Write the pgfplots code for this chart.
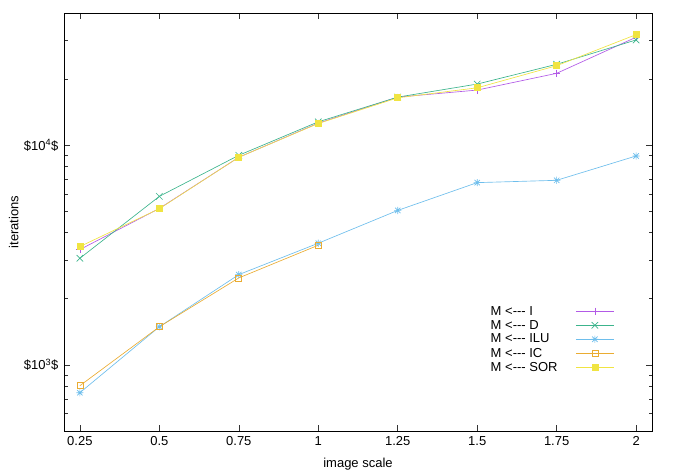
\documentclass[border=0pt]{standalone}
\usepackage{fontspec}
\setmainfont{Liberation Sans}
\usepackage{pgfplots}
\pgfplotsset{compat=1.18}
\definecolor{gpPurple}{RGB}{178,90,230}
\definecolor{gpGreen}{RGB}{60,180,140}
\definecolor{gpBlue}{RGB}{110,190,236}
\definecolor{gpOrange}{RGB}{234,172,50}
\definecolor{gpYellow}{RGB}{240,228,66}

% gnuplot style star: plus and cross together
\pgfdeclareplotmark{gpstar}{%
  \pgfpathmoveto{\pgfqpoint{-\pgfplotmarksize}{0pt}}\pgfpathlineto{\pgfqpoint{\pgfplotmarksize}{0pt}}%
  \pgfpathmoveto{\pgfqpoint{0pt}{-\pgfplotmarksize}}\pgfpathlineto{\pgfqpoint{0pt}{\pgfplotmarksize}}%
  \pgfpathmoveto{\pgfqpoint{-.75\pgfplotmarksize}{-.75\pgfplotmarksize}}\pgfpathlineto{\pgfqpoint{.75\pgfplotmarksize}{.75\pgfplotmarksize}}%
  \pgfpathmoveto{\pgfqpoint{-.75\pgfplotmarksize}{.75\pgfplotmarksize}}\pgfpathlineto{\pgfqpoint{.75\pgfplotmarksize}{-.75\pgfplotmarksize}}%
  \pgfusepathqstroke}

\begin{document}
\begin{tikzpicture}
\useasboundingbox (0pt,0pt) rectangle (676pt,473pt);
\begin{axis}[
    at={(64pt,42pt)}, anchor=south west,
    scale only axis, width=588pt, height=418pt,
    ymode=log, xmin=0.2, xmax=2.05, ymin=500, ymax=40000,
    xtick={0.25,0.5,0.75,1,1.25,1.5,1.75,2},
    xticklabels={0.25,0.5,0.75,1,1.25,1.5,1.75,2},
    ytick={1000,10000},
    yticklabels={\$10\textsuperscript{3}\$,\$10\textsuperscript{4}\$},
    minor ytick={500,600,700,800,900,2000,3000,4000,5000,6000,7000,8000,9000,20000,30000,40000},
    tick align=inside, major tick length=6pt, minor tick length=3.5pt,
    tick style={black!80, line width=0.6pt},
    axis line style={black, line width=0.9pt},
    tick label style={font=\fontsize{13}{15}\selectfont},
    xticklabel style={yshift=-2pt},
    yticklabel style={xshift=-2pt},
    label style={font=\fontsize{13}{15}\selectfont},
    xlabel={image scale}, ylabel={iterations},
    xlabel style={at={(axis description cs:0.5,0)}, anchor=north, yshift=-24pt},
    ylabel style={at={(axis description cs:0,0.5)}, anchor=south, yshift=42pt},
    legend plot pos=right, legend cell align=left,
    legend style={at={(axis description cs:0.722,0.304)}, anchor=north west,
        draw=none, fill=none, font=\fontsize{13}{15}\selectfont,
        row sep=-0.5pt, column sep=16pt, inner sep=0pt},
    legend image code/.code={\draw[mark repeat=2, mark phase=2] plot coordinates {(0pt,0pt) (19pt,0pt) (38pt,0pt)};},
    every axis plot/.append style={line width=0.65pt},
]
\addplot[color=gpPurple, mark=+, mark size=3.6pt] coordinates {
(0.25,3350) (0.5,5155) (0.75,8815) (1,12605) (1.25,16560) (1.5,17830) (1.75,21250) (2,31030)};
\addlegendentry{M <-{}-{}- I}
\addplot[color=gpGreen, mark=x, mark size=4.6pt] coordinates {
(0.25,3058) (0.5,5850) (0.75,9000) (1,12780) (1.25,16560) (1.5,18990) (1.75,23360) (2,30160)};
\addlegendentry{M <-{}-{}- D}
\addplot[color=gpBlue, mark=gpstar, mark size=3.6pt] coordinates {
(0.25,747) (0.5,1491) (0.75,2576) (1,3580) (1.25,5049) (1.5,6757) (1.75,6923) (2,8935)};
\addlegendentry{M <-{}-{}- ILU}
\addplot[color=gpOrange, mark=square, mark size=3pt] coordinates {
(0.25,804) (0.5,1491) (0.75,2488) (1,3505)};
\addlegendentry{M <-{}-{}- IC}
\addplot[color=gpYellow, mark=square*, mark options={fill=gpYellow}, mark size=3pt] coordinates {
(0.25,3457) (0.5,5140) (0.75,8815) (1,12560) (1.25,16440) (1.5,18260) (1.75,23020) (2,31890)};
\addlegendentry{M <-{}-{}- SOR}
\end{axis}
\end{tikzpicture}
\end{document}
